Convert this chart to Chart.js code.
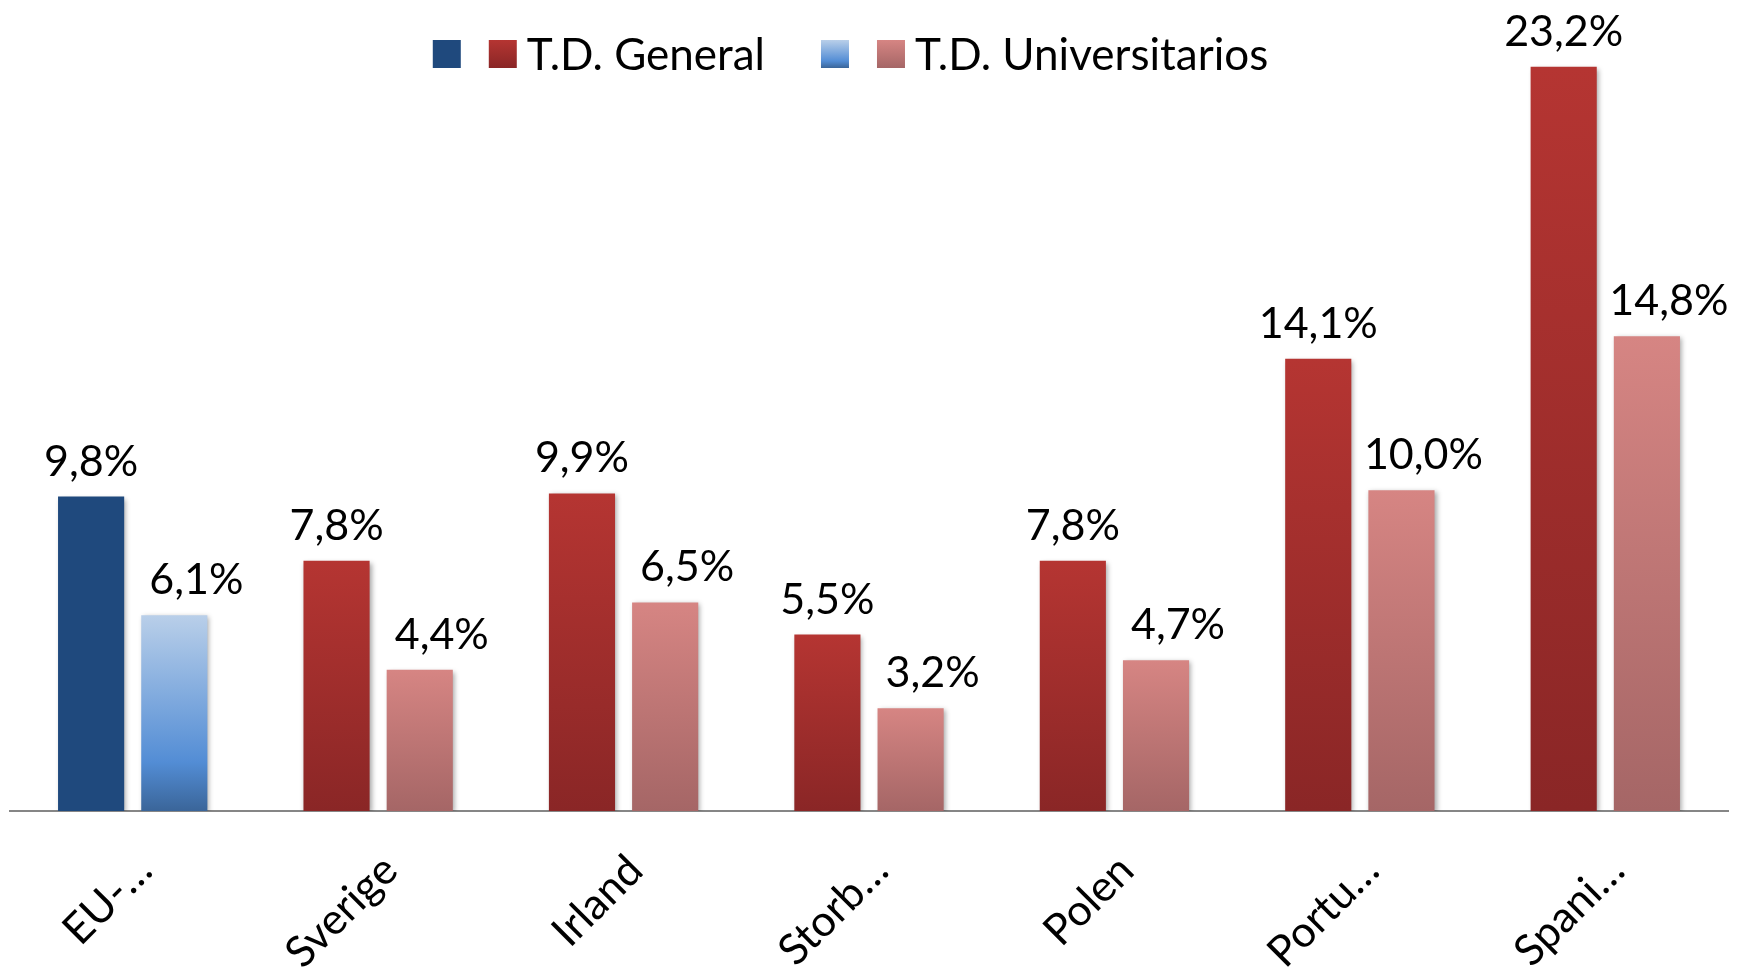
<!DOCTYPE html>
<html lang="es">
<head>
    <meta charset="UTF-8">
    <title>T.D. General / T.D. Universitarios</title>
    <script src="https://cdn.jsdelivr.net/npm/chart.js"></script>
    <style>
        html, body {
            margin: 0;
            padding: 0;
            background: #fff;
        }
        canvas {
            display: block;
        }
    </style>
</head>
<body>
    <canvas id="chart" width="1745" height="974"></canvas>
    <script>
        // Data
        const categories = ['EU-…', 'Sverige', 'Irland', 'Storb…', 'Polen', 'Portu…', 'Spani…'];
        const generalValues = [9.8, 7.8, 9.9, 5.5, 7.8, 14.1, 23.2];
        const univValues = [6.1, 4.4, 6.5, 3.2, 4.7, 10.0, 14.8];
        const legendLabels = ['', 'T.D. General', '', 'T.D. Universitarios'];

        const FONT = 'Lato, "Open Sans", sans-serif';

        // gradient stops (top -> bottom)
        const redStops = [[0, '#b53532'], [1, '#8a2626']];
        const pinkStops = [[0, '#d68583'], [1, '#a56666']];
        const lightBlueStops = [[0, '#b9cfe9'], [0.75, '#538dd5'], [1, '#3a6599']];
        const darkBlue = '#1f497d';

        function makeGradient(c, top, bottom, stops) {
            const g = c.createLinearGradient(0, top, 0, bottom);
            stops.forEach(s => g.addColorStop(s[0], s[1]));
            return g;
        }

        function barFill(stops) {
            return function (context) {
                const chart = context.chart;
                const y = chart.scales.y;
                if (!chart.chartArea || !y || context.raw === undefined) return stops[0][1];
                const top = y.getPixelForValue(context.raw);
                const bottom = y.getPixelForValue(0);
                if (!isFinite(top) || !isFinite(bottom) || top === bottom) return stops[0][1];
                return makeGradient(chart.ctx, top, bottom, stops);
            };
        }

        const generalFill = barFill(redStops);
        const univFill = barFill(pinkStops);
        const univFirstFill = barFill(lightBlueStops);

        // soft shadow behind the bars, then value labels
        const barExtras = {
            id: 'barExtras',
            beforeDatasetsDraw(chart) {
                const c = chart.ctx;
                c.save();
                c.shadowColor = 'rgba(0, 0, 0, 0.35)';
                c.shadowBlur = 5;
                c.shadowOffsetX = 2;
                c.shadowOffsetY = 2;
            },
            afterDatasetsDraw(chart) {
                const c = chart.ctx;
                c.restore();
                c.save();
                c.font = '43px ' + FONT;
                c.fillStyle = '#000';
                c.textAlign = 'center';
                c.textBaseline = 'alphabetic';
                chart.data.datasets.forEach((ds, di) => {
                    const meta = chart.getDatasetMeta(di);
                    meta.data.forEach((bar, i) => {
                        const txt = ds.data[i].toFixed(1).replace('.', ',') + '%';
                        const dx = di === 1 ? 22 : 0;
                        c.fillText(txt, bar.x + dx, bar.y - 21);
                    });
                });
                c.restore();
            }
        };

        // legend: four swatches, two of them without text
        const swatchLegend = {
            id: 'swatchLegend',
            afterDraw(chart) {
                const c = chart.ctx;
                const box = 28;
                const boxGap = 28;
                const textGap = 10;
                const itemGap = 56;
                const cy = 54;
                const swatches = [
                    { fill: darkBlue },
                    { stops: redStops },
                    { stops: lightBlueStops },
                    { stops: pinkStops }
                ];
                c.save();
                c.font = '44px ' + FONT;
                c.textBaseline = 'middle';
                c.fillStyle = '#000';
                let total = 0;
                legendLabels.forEach((lbl, i) => {
                    total += box;
                    if (lbl) total += textGap + c.measureText(lbl).width;
                    if (i < legendLabels.length - 1) total += lbl ? itemGap : boxGap;
                });
                let x = chart.width / 2 - 22 - total / 2;
                legendLabels.forEach((lbl, i) => {
                    const s = swatches[i];
                    c.fillStyle = s.fill || makeGradient(c, cy - box / 2, cy + box / 2, s.stops);
                    c.fillRect(x, cy - box / 2, box, box);
                    x += box;
                    if (lbl) {
                        c.fillStyle = '#000';
                        c.textAlign = 'left';
                        c.fillText(lbl, x + textGap, cy + 2);
                        x += textGap + c.measureText(lbl).width;
                    }
                    x += lbl ? itemGap : boxGap;
                });
                c.restore();
            }
        };

        const ctx = document.getElementById('chart').getContext('2d');
        new Chart(ctx, {
            type: 'bar',
            data: {
                labels: categories,
                datasets: [
                    {
                        label: legendLabels[1],
                        data: generalValues,
                        backgroundColor: (context) => context.dataIndex === 0 ? darkBlue : generalFill(context),
                        borderWidth: 0
                    },
                    {
                        label: legendLabels[3],
                        data: univValues,
                        backgroundColor: (context) => context.dataIndex === 0 ? univFirstFill(context) : univFill(context),
                        borderWidth: 0
                    }
                ]
            },
            options: {
                responsive: false,
                animation: false,
                datasets: {
                    bar: {
                        categoryPercentage: 0.678,
                        barPercentage: 0.795
                    }
                },
                layout: {
                    padding: { top: 9, left: 10, right: 17, bottom: 0 }
                },
                plugins: {
                    legend: { display: false },
                    tooltip: { enabled: false }
                },
                scales: {
                    x: {
                        grid: { display: false, drawTicks: false },
                        border: { display: true, color: '#868686', width: 2 },
                        ticks: {
                            color: '#000',
                            font: { family: FONT, size: 43 },
                            minRotation: 45,
                            maxRotation: 45,
                            autoSkip: false,
                            padding: 34,
                            labelOffset: 12
                        },
                        afterFit(scale) {
                            scale.height = 163;
                        }
                    },
                    y: {
                        display: false,
                        min: 0,
                        max: 25
                    }
                }
            },
            plugins: [barExtras, swatchLegend]
        });
    </script>
</body>
</html>
